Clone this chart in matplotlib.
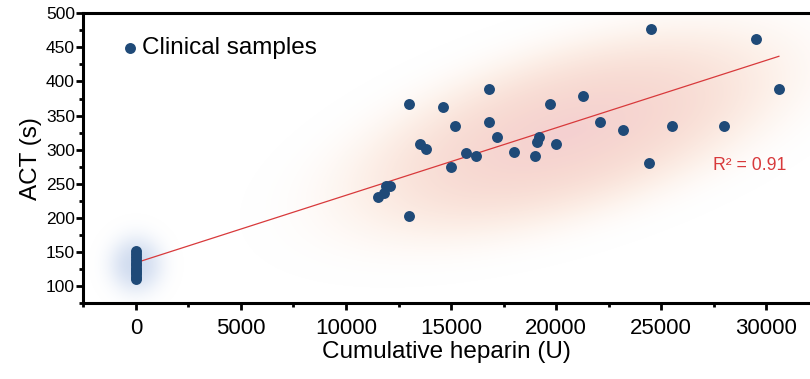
import numpy as np
import matplotlib
matplotlib.use("Agg")
import matplotlib.pyplot as plt
from matplotlib.ticker import MultipleLocator

plt.rcParams["font.family"] = ["Liberation Sans", "DejaVu Sans"]

# Clinical samples: cumulative heparin (U) vs ACT (s)
heparin_zero = [0] * 12
act_zero = [110, 113, 117, 120, 124, 127, 131, 134, 138, 142, 147, 152]

heparin = [11500, 11800, 11900, 12100, 13000, 13000, 13500, 13800, 14600, 15000,
           15200, 15700, 16200, 16800, 16800, 17200, 18000, 19000, 19100, 19200,
           19700, 20000, 21300, 22100, 23200, 24400, 24500, 25500, 28000, 29500,
           30600]
act = [231, 237, 246, 247, 203, 367, 308, 301, 362, 275,
       334, 295, 291, 389, 340, 319, 296, 290, 311, 319,
       367, 308, 378, 340, 329, 280, 477, 335, 334, 462,
       389]

# linear fit
fit_intercept = 134
fit_slope = 0.0099
fit_range = [0, 30600]
r2_label = "R² = 0.91"

dot_color = "#1f4a78"
red = "#d8393b"

fig = plt.figure(figsize=(8.1, 3.79), dpi=100)
ax = fig.add_axes([83.3 / 810, 1 - 303 / 379, (810 - 83.3) / 810, (303 - 13.3) / 379])
ax.set_xlim(-2500, 32080)
ax.set_ylim(75, 500)


def glow(ax, cx, cy, a, b, angle, rgb_in, rgb_out, amax, power=2.0):
    # soft elliptical glow, sizes given in pixels
    x0, x1 = ax.get_xlim()
    y0, y1 = ax.get_ylim()
    xs = np.linspace(x0, x1, 600)
    ys = np.linspace(y0, y1, 300)
    X, Y = np.meshgrid(xs, ys)
    P = ax.transData.transform(np.column_stack([X.ravel(), Y.ravel()]))
    c = ax.transData.transform([[cx, cy]])[0]
    dx = (P[:, 0] - c[0]).reshape(X.shape)
    dy = (P[:, 1] - c[1]).reshape(X.shape)
    t = np.deg2rad(angle)
    u = dx * np.cos(t) + dy * np.sin(t)
    v = -dx * np.sin(t) + dy * np.cos(t)
    r = np.sqrt((u / a) ** 2 + (v / b) ** 2)
    alpha = amax * np.exp(-r ** power)
    mix = np.clip(r, 0, 1)[..., None]
    rgb = (np.array(rgb_in) * (1 - mix) + np.array(rgb_out) * mix) / 255.0
    img = np.dstack([rgb, alpha])
    ax.imshow(img, extent=(x0, x1, y0, y1), origin="lower", aspect="auto",
              interpolation="bilinear", zorder=0)


glow(ax, 20500, 325, 228, 84, 17, (236, 170, 170), (247, 200, 172), 0.55, 4.0)
glow(ax, 0, 131, 28, 30, 0, (175, 195, 228), (195, 210, 236), 0.6, 3.0)

ax.set_xlim(-2500, 32080)
ax.set_ylim(75, 500)

xf = np.array(fit_range)
ax.plot(xf, fit_intercept + fit_slope * xf, color=red, lw=0.9, zorder=3)

ax.scatter(heparin_zero, act_zero, s=62, color=dot_color, zorder=4, linewidths=0)
ax.scatter(heparin, act, s=62, color=dot_color, zorder=4, linewidths=0,
           label="Clinical samples")

ax.text(27450, 277, r2_label, color=red, fontsize=12.7, va="center", ha="left")

ax.legend(loc="upper left", bbox_to_anchor=(0.027, 0.968), frameon=False,
          fontsize=17.5, handlelength=1.0, handletextpad=0.0, borderaxespad=0.2)

for side in ["left", "bottom", "top"]:
    ax.spines[side].set_linewidth(2.2)
ax.spines["right"].set_visible(False)

ax.xaxis.set_major_locator(MultipleLocator(5000))
ax.xaxis.set_minor_locator(MultipleLocator(2500))
ax.yaxis.set_major_locator(MultipleLocator(50))
ax.yaxis.set_minor_locator(MultipleLocator(25))
ax.tick_params(axis="x", which="major", length=5, width=2, labelsize=16, pad=6)
ax.tick_params(axis="y", which="major", length=5, width=2, labelsize=12.5, pad=1)
ax.tick_params(which="minor", length=3, width=2)
ax.tick_params(top=False, right=False)

ax.set_xlabel("Cumulative heparin (U)", fontsize=17.5, labelpad=1)
ax.set_ylabel("ACT (s)", fontsize=17.5, labelpad=3)

fig.savefig("out.png", dpi=100)
